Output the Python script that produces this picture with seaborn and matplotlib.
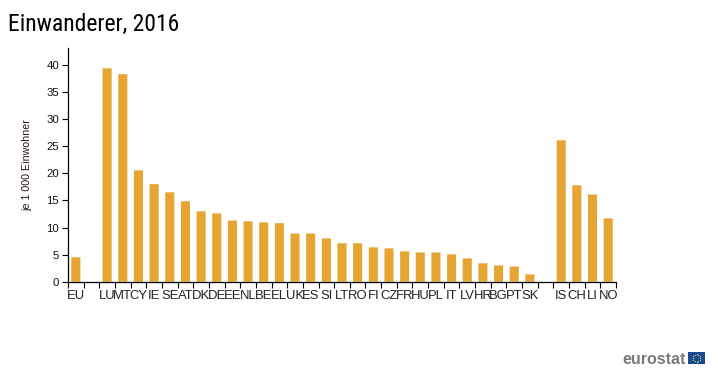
import numpy as np
import pandas as pd
import seaborn as sns
from matplotlib import pyplot

countries = ["EU", " ", "LU", "MT", "CY", "IE", "SE", "AT", "DK", "DE", "EE", "NL",
             "BE", "EL", "UK", "ES", "SI", "LT", "RO", "FI", "CZ", "FR", "HU", "PL",
             "IT", "LV", "HR", "BG", "PT", "SK", "  ", "IS", "CH", "LI", "NO"]
immigrants = [4.5, np.nan, 39.4, 38.3, 20.55, 18.0, 16.5, 14.85, 13.0, 12.6, 11.3, 11.15,
              10.95, 10.8, 8.9, 8.9, 8.0, 7.1, 7.1, 6.35, 6.15, 5.6, 5.4, 5.4,
              5.05, 4.3, 3.4, 3.0, 2.8, 1.35, np.nan, 26.1, 17.8, 16.1, 11.7]
y_ticks = [0, 5, 10, 15, 20, 25, 30, 35, 40]

sns.set_theme(style="ticks")
pyplot.rcParams['font.family'] = ['Liberation Sans', 'DejaVu Sans']

df = pd.DataFrame({"country": countries, "value": immigrants})

W, H = 718, 376
fig = pyplot.figure(figsize=(W / 100, H / 100), dpi=100)
ax = fig.add_axes([68 / W, 1 - 281.7 / H, 548 / W, 234 / H])

sns.barplot(data=df, x="country", y="value", order=countries, color="#E6A532",
            saturation=1, width=0.58, linewidth=0, ax=ax)
for bar in ax.patches:
    bar.set_snap(False)

ax.set_xlim(-0.5, len(countries) - 0.5)
ax.set_ylim(0, 43.2)
ax.set_yticks(y_ticks)
ax.tick_params(axis='y', labelsize=8.2, length=4.3, width=0.8, color="black", pad=2.2, labelcolor="#111111")

# ticks sit on the band edges, labels in the middle of the band
ax.set_xticks(np.arange(len(countries) + 1) - 0.5)
ax.set_xticklabels([])
ax.set_xticks(np.arange(len(countries)), labels=countries, minor=True)
ax.tick_params(axis='x', which='major', length=4.3, width=0.8, color="black")
ax.tick_params(axis='x', which='minor', length=0, labelsize=9.4, pad=6, labelcolor="#222222")

ax.set_xlabel("")
ax.set_ylabel("")
for side in ["top", "right"]:
    ax.spines[side].set_visible(False)
for side in ["left", "bottom"]:
    ax.spines[side].set_linewidth(0.9)
    ax.spines[side].set_color("black")

fig.text(27 / W, 1 - 165 / H, "je 1 000 Einwohner", rotation=90, fontsize=7.7,
         ha="center", va="center", color="#2a1020")

fig.text(8 / W, 1 - 31 / H, "Einwanderer, 2016", fontsize=17,
         family=['Roboto Condensed', 'Archivo Narrow', 'Roboto'],
         ha="left", va="baseline", color="black")

# eurostat logo
fig.text(622 / W, 1 - 364 / H, "eurostat", fontsize=11.5, fontweight="bold",
         ha="left", va="baseline", color="#7a7a7a")
flag = fig.add_axes([688 / W, 1 - 364 / H, 17 / W, 12 / H])
flag.set_facecolor("#1B4A94")
flag.set_xlim(-1.4, 1.4)
flag.set_ylim(-1, 1)
flag.set_xticks([])
flag.set_yticks([])
for side in flag.spines.values():
    side.set_visible(False)
angles = np.arange(12) * np.pi / 6
flag.scatter(0.65 * np.cos(angles), 0.65 * np.sin(angles), s=0.8, color="#E8D44D", linewidths=0)

pyplot.savefig("out.png", dpi=100)
